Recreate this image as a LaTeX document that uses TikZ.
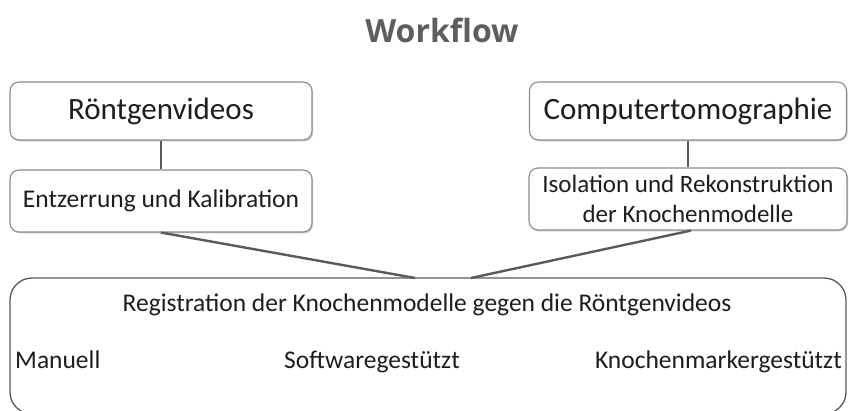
\documentclass[tikz,border=0pt]{standalone}
\usepackage{fontspec}
\setmainfont{Carlito}
\newfontfamily\titlefont{Open Sans}
\usetikzlibrary{shadows}
\definecolor{boxline}{HTML}{8C8C8C}
\definecolor{linkline}{HTML}{5A5A5A}
\definecolor{titlegray}{HTML}{5E5E5E}
\definecolor{txt}{HTML}{1E1E1E}
\tikzset{
  stagebox/.style={draw=boxline, line width=1.1pt, rounded corners=9pt, fill=white,
    text=txt, align=center, inner sep=0pt,
    drop shadow={shadow xshift=1.2pt, shadow yshift=-1.5pt, opacity=0.35, fill=black!60}},
  link/.style={draw=linkline, line width=2.4pt},
  label/.style={text=txt, inner sep=0pt, font=\fontsize{25.5}{30}\selectfont}
}
\begin{document}
\begin{tikzpicture}[x=1pt, y=-1pt]
\useasboundingbox (0,0) rectangle (849,411);

% title
\node[text=titlegray, font=\titlefont\bfseries\fontsize{32}{36}\selectfont] (title) at (442,30) {Workflow};

% X-ray branch
\node[stagebox, minimum width=302pt, minimum height=58pt, font=\fontsize{31}{34}\selectfont]
  (xray) at (161,111) {Röntgenvideos};
\node[stagebox, minimum width=302pt, minimum height=62pt, font=\fontsize{25.5}{29}\selectfont]
  (undistort) at (161,201) {Entzerrung und Kalibration};

% CT branch
\node[stagebox, minimum width=317pt, minimum height=58pt, font=\fontsize{31}{34}\selectfont]
  (ct) at (688,111) {Computertomographie};
\node[stagebox, minimum width=318pt, minimum height=62pt, font=\fontsize{25}{30}\selectfont]
  (iso) at (688,199) {Isolation und Rekonstruktion\\der Knochenmodelle};

% registration
\node[draw=linkline, line width=1.3pt, rounded corners=22pt, fill=white,
      minimum width=836pt, minimum height=136pt, inner sep=0pt]
  (reg) at (428,346) {};
\node[label, anchor=base] (regtitle) at (427,312) {Registration der Knochenmodelle gegen die Röntgenvideos};
\node[label, anchor=base west] (manual) at (15,369) {Manuell};
\node[label, anchor=base] (soft) at (372,369) {Softwaregestützt};
\node[label, anchor=base east] (marker) at (842,369) {Knochenmarkergestützt};

% connectors
\coordinate (joinL) at (415,278);
\coordinate (joinR) at (471,278);
\draw[link, line width=2pt] (xray.south) -- (undistort.north);
\draw[link, line width=2pt] (ct.south -| iso.north) -- (iso.north);
\draw[link] (undistort.south) -- (joinL);
\draw[link] ([xshift=3pt]iso.south) -- (joinR);
\end{tikzpicture}
\end{document}
